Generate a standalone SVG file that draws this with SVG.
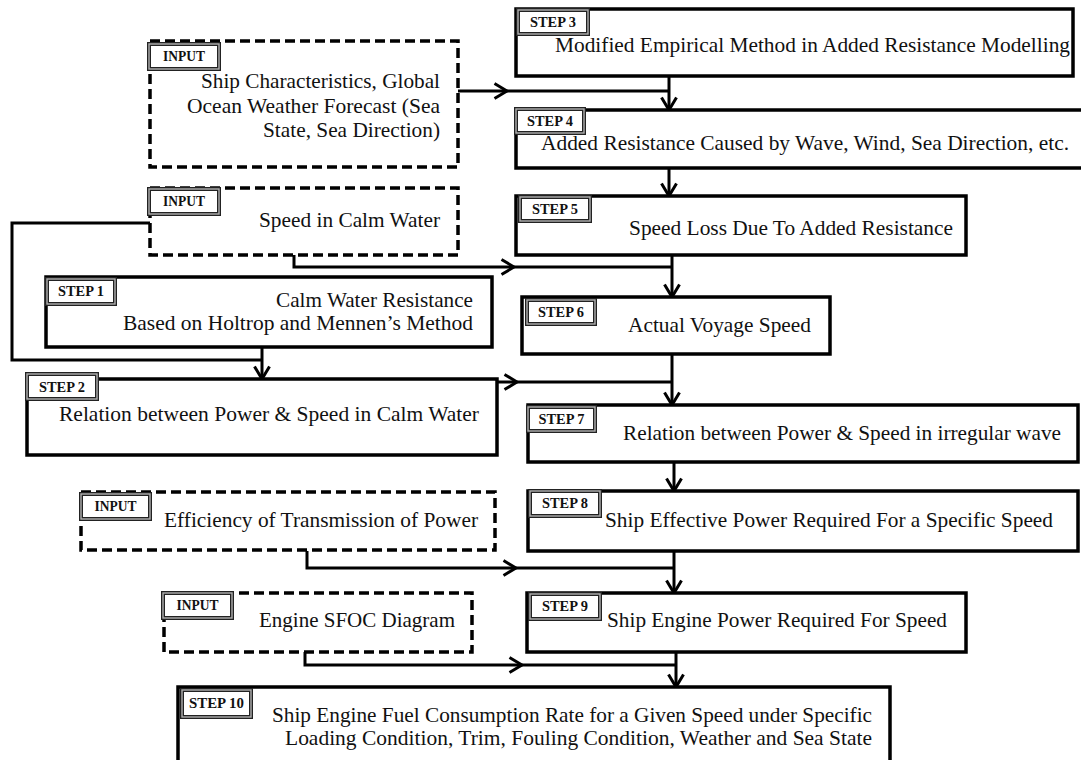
<svg xmlns="http://www.w3.org/2000/svg" width="1081" height="760" viewBox="0 0 1081 760">
<defs>
<style>
.box{fill:#fff;stroke:#000;stroke-width:3.5}
.dbox{fill:#fff;stroke:#000;stroke-width:3.5;stroke-dasharray:10 5}
.lo{fill:#fff;stroke:#222;stroke-width:4}
.li{fill:none;stroke:#b0b0b0;stroke-width:1.4}
.lt{font-family:"Liberation Serif","Times New Roman",serif;font-weight:bold;font-size:14px;fill:#111;text-anchor:middle}
.tx{font-family:"Liberation Serif","Times New Roman",serif;font-size:21px;fill:#111}
.cn{fill:none;stroke:#000;stroke-width:3}
</style>
<marker id="arr" viewBox="0 0 16 18" refX="14" refY="9" markerWidth="16" markerHeight="18" orient="auto" markerUnits="userSpaceOnUse">
<path d="M1.5,1.5 L14,9 L1.5,16.5" fill="none" stroke="#000" stroke-width="3"/>
</marker>
</defs>
<rect width="1081" height="760" fill="#fff"/>

<g id="connectors">
<path class="cn" d="M458,91 H507" marker-end="url(#arr)"/>
<path class="cn" d="M507,91 H669"/>
<path class="cn" d="M669,76 V110" marker-end="url(#arr)"/>
<path class="cn" d="M669,168 V196" marker-end="url(#arr)"/>
<path class="cn" d="M294,255 V267 H514" marker-end="url(#arr)"/>
<path class="cn" d="M514,267 H672"/>
<path class="cn" d="M672,255 V297" marker-end="url(#arr)"/>
<path class="cn" d="M150,223 H12 V360 H262"/>
<path class="cn" d="M262,348 V379" marker-end="url(#arr)"/>
<path class="cn" d="M497,382 H517" marker-end="url(#arr)"/>
<path class="cn" d="M517,382 H672"/>
<path class="cn" d="M672,354 V405" marker-end="url(#arr)"/>
<path class="cn" d="M674,462 V491" marker-end="url(#arr)"/>
<path class="cn" d="M307,551 V568 H516" marker-end="url(#arr)"/>
<path class="cn" d="M516,568 H674"/>
<path class="cn" d="M674,551 V593" marker-end="url(#arr)"/>
<path class="cn" d="M305,652 V665 H522" marker-end="url(#arr)"/>
<path class="cn" d="M522,665 H676"/>
<path class="cn" d="M676,652 V687" marker-end="url(#arr)"/>
</g>

<g id="input1">
<rect class="dbox" x="150" y="41" width="308" height="126"/>
<rect class="lo" x="149" y="44" width="70" height="25"/><rect class="li" x="149" y="44" width="70" height="25"/>
<text class="lt" x="184" y="61" textLength="42" lengthAdjust="spacingAndGlyphs">INPUT</text>
<text class="tx" x="201" y="88" textLength="239" lengthAdjust="spacingAndGlyphs">Ship Characteristics, Global</text>
<text class="tx" x="187" y="113" textLength="253" lengthAdjust="spacingAndGlyphs">Ocean Weather Forecast (Sea</text>
<text class="tx" x="263" y="137" textLength="177" lengthAdjust="spacingAndGlyphs">State, Sea Direction)</text>
</g>

<g id="input2">
<rect class="dbox" x="150" y="188" width="308" height="67"/>
<rect class="lo" x="149" y="189" width="70" height="25"/><rect class="li" x="149" y="189" width="70" height="25"/>
<text class="lt" x="184" y="206" textLength="42" lengthAdjust="spacingAndGlyphs">INPUT</text>
<text class="tx" x="259" y="227" textLength="181" lengthAdjust="spacingAndGlyphs">Speed in Calm Water</text>
</g>

<g id="step1">
<rect class="box" x="46" y="277" width="446" height="70"/>
<rect class="lo" x="47" y="279" width="68" height="25"/><rect class="li" x="47" y="279" width="68" height="25"/>
<text class="lt" x="81" y="296" textLength="46" lengthAdjust="spacingAndGlyphs">STEP 1</text>
<text class="tx" x="276" y="307" textLength="197" lengthAdjust="spacingAndGlyphs">Calm Water Resistance</text>
<text class="tx" x="123" y="330" textLength="350" lengthAdjust="spacingAndGlyphs">Based on Holtrop and Mennen’s Method</text>
</g>

<g id="step2">
<rect class="box" x="27" y="379" width="470" height="76"/>
<rect class="lo" x="27" y="374" width="70" height="25"/><rect class="li" x="27" y="374" width="70" height="25"/>
<text class="lt" x="62" y="391.5" textLength="46" lengthAdjust="spacingAndGlyphs">STEP 2</text>
<text class="tx" x="59" y="421" textLength="420" lengthAdjust="spacingAndGlyphs">Relation between Power &amp; Speed in Calm Water</text>
</g>

<g id="step3">
<rect class="box" x="516" y="9" width="557" height="67"/>
<rect class="lo" x="518" y="10" width="70" height="24"/><rect class="li" x="518" y="10" width="70" height="24"/>
<text class="lt" x="553" y="27" textLength="46" lengthAdjust="spacingAndGlyphs">STEP 3</text>
<text class="tx" x="555" y="52" textLength="515" lengthAdjust="spacingAndGlyphs">Modified Empirical Method in Added Resistance Modelling</text>
</g>

<g id="step4">
<rect class="box" x="516" y="110" width="580" height="58"/>
<rect class="lo" x="516" y="109" width="68" height="24"/><rect class="li" x="516" y="109" width="68" height="24"/>
<text class="lt" x="550" y="126" textLength="46" lengthAdjust="spacingAndGlyphs">STEP 4</text>
<text class="tx" x="541" y="150" textLength="528" lengthAdjust="spacingAndGlyphs">Added Resistance Caused by Wave, Wind, Sea Direction, etc.</text>
</g>

<g id="step5">
<rect class="box" x="516" y="196" width="450" height="59"/>
<rect class="lo" x="520" y="197" width="70" height="24"/><rect class="li" x="520" y="197" width="70" height="24"/>
<text class="lt" x="555" y="214" textLength="46" lengthAdjust="spacingAndGlyphs">STEP 5</text>
<text class="tx" x="629" y="235" textLength="324" lengthAdjust="spacingAndGlyphs">Speed Loss Due To Added Resistance</text>
</g>

<g id="step6">
<rect class="box" x="522" y="297" width="308" height="57"/>
<rect class="lo" x="527" y="300" width="68" height="24"/><rect class="li" x="527" y="300" width="68" height="24"/>
<text class="lt" x="561" y="317" textLength="46" lengthAdjust="spacingAndGlyphs">STEP 6</text>
<text class="tx" x="628" y="332" textLength="183" lengthAdjust="spacingAndGlyphs">Actual Voyage Speed</text>
</g>

<g id="step7">
<rect class="box" x="528" y="405" width="550" height="57"/>
<rect class="lo" x="528" y="407" width="67" height="24"/><rect class="li" x="528" y="407" width="67" height="24"/>
<text class="lt" x="561.5" y="424" textLength="46" lengthAdjust="spacingAndGlyphs">STEP 7</text>
<text class="tx" x="623" y="440" textLength="438" lengthAdjust="spacingAndGlyphs">Relation between Power &amp; Speed in irregular wave</text>
</g>

<g id="input3">
<rect class="dbox" x="81" y="492" width="414" height="58"/>
<rect class="lo" x="81" y="494" width="69" height="25"/><rect class="li" x="81" y="494" width="69" height="25"/>
<text class="lt" x="115.5" y="511" textLength="42" lengthAdjust="spacingAndGlyphs">INPUT</text>
<text class="tx" x="164" y="527" textLength="314" lengthAdjust="spacingAndGlyphs">Efficiency of Transmission of Power</text>
</g>

<g id="step8">
<rect class="box" x="528" y="491" width="550" height="60"/>
<rect class="lo" x="530" y="491" width="70" height="25"/><rect class="li" x="530" y="491" width="70" height="25"/>
<text class="lt" x="565" y="508" textLength="46" lengthAdjust="spacingAndGlyphs">STEP 8</text>
<text class="tx" x="605" y="527" textLength="448" lengthAdjust="spacingAndGlyphs">Ship Effective Power Required For a Specific Speed</text>
</g>

<g id="step9">
<rect class="box" x="527" y="593" width="439" height="59"/>
<rect class="lo" x="530" y="594" width="70" height="25"/><rect class="li" x="530" y="594" width="70" height="25"/>
<text class="lt" x="565" y="611" textLength="46" lengthAdjust="spacingAndGlyphs">STEP 9</text>
<text class="tx" x="607" y="627" textLength="340" lengthAdjust="spacingAndGlyphs">Ship Engine Power Required For Speed</text>
</g>

<g id="input4">
<rect class="dbox" x="164" y="593" width="308" height="59"/>
<rect class="lo" x="163" y="593" width="69" height="25"/><rect class="li" x="163" y="593" width="69" height="25"/>
<text class="lt" x="197.5" y="610" textLength="42" lengthAdjust="spacingAndGlyphs">INPUT</text>
<text class="tx" x="259" y="627" textLength="196" lengthAdjust="spacingAndGlyphs">Engine SFOC Diagram</text>
</g>

<g id="step10">
<rect class="box" x="178" y="687" width="712" height="90"/>
<rect class="lo" x="182" y="690" width="69" height="27"/><rect class="li" x="182" y="690" width="69" height="27"/>
<text class="lt" x="216.5" y="708" textLength="55" lengthAdjust="spacingAndGlyphs">STEP 10</text>
<text class="tx" x="272" y="722" textLength="600" lengthAdjust="spacingAndGlyphs">Ship Engine Fuel Consumption Rate for a Given Speed under Specific</text>
<text class="tx" x="285" y="745" textLength="587" lengthAdjust="spacingAndGlyphs">Loading Condition, Trim, Fouling Condition, Weather and Sea State</text>
</g>
</svg>
